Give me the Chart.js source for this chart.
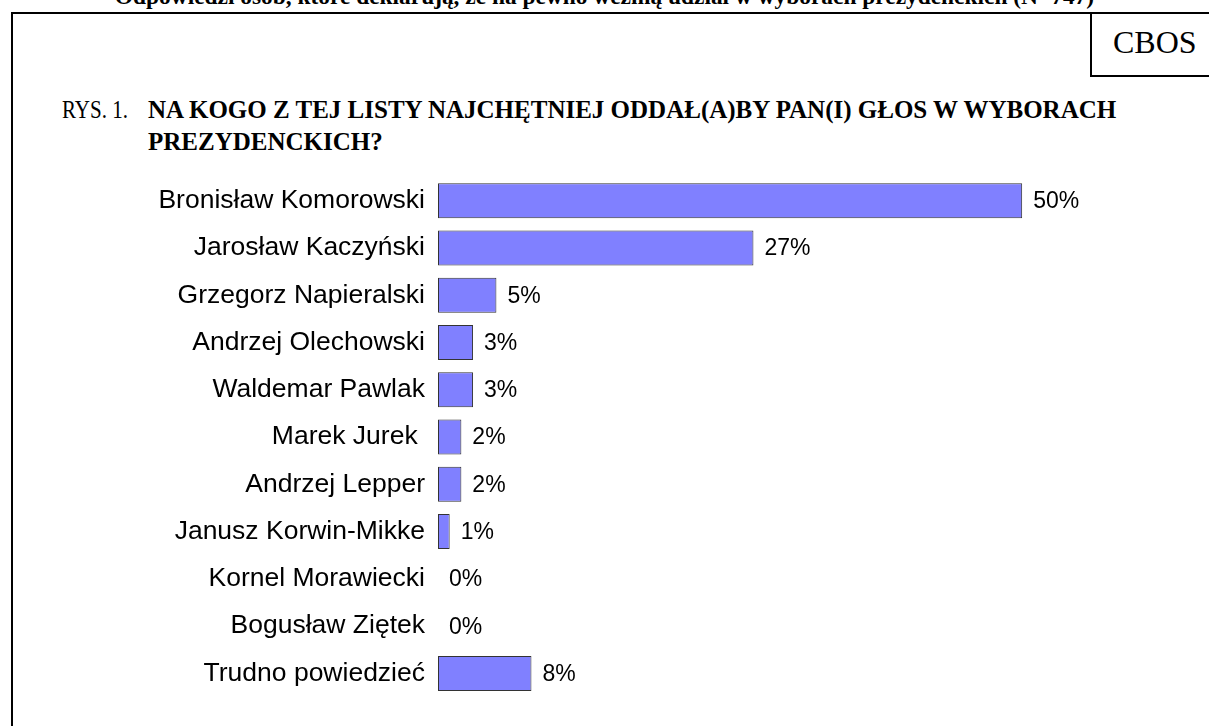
<!DOCTYPE html>
<html>
<head>
<meta charset="utf-8">
<script src="https://cdn.jsdelivr.net/npm/chart.js@4"></script>
<style>
  html, body { margin: 0; padding: 0; background: #fff; overflow: hidden; }
  body { width: 1209px; height: 726px; position: relative; font-family: "Liberation Serif", "Times New Roman", serif; }
  .frame { position: absolute; left: 11px; top: 12px; width: 1260px; height: 760px; border: 2px solid #000; box-sizing: border-box; }
  .cbos { position: absolute; left: 1090px; top: 12px; width: 180px; height: 65px; border: 2px solid #000; box-sizing: border-box; }
  .cbos span { position: absolute; left: 21px; top: 12px; font-size: 32px; line-height: 32px; }
  .subtitle { position: absolute; left: 0; width: 1209px; top: -16px; text-align: center; font-weight: bold; font-size: 23.4px; line-height: 24px; white-space: nowrap; }
  .rys { position: absolute; left: 62px; top: 94px; font-size: 25px; line-height: 32px; transform: scaleX(0.84); transform-origin: left top; }
  .question { position: absolute; left: 148px; top: 94px; font-size: 25px; line-height: 32px; font-weight: bold; white-space: nowrap; }
  canvas { position: absolute; left: 0; top: 0; }
</style>
</head>
<body>
<div class="subtitle">Odpowiedzi osób, które deklarują, że na pewno wezmą udział w wyborach prezydenckich (N=747)</div>
<div class="frame"></div>
<div class="cbos"><span>CBOS</span></div>
<div class="rys">RYS. 1.</div>
<div class="question">NA KOGO Z TEJ LISTY NAJCHĘTNIEJ ODDAŁ(A)BY PAN(I) GŁOS W WYBORACH<br>PREZYDENCKICH?</div>
<canvas id="chart" width="1209" height="726"></canvas>
<script>
// candidates and answer shares (%)
const candidates = [
    'Bronisław Komorowski',
    'Jarosław Kaczyński',
    'Grzegorz Napieralski',
    'Andrzej Olechowski',
    'Waldemar Pawlak',
    'Marek Jurek ',
    'Andrzej Lepper',
    'Janusz Korwin-Mikke',
    'Kornel Morawiecki',
    'Bogusław Ziętek',
    'Trudno powiedzieć'
];
const shares = [50, 27, 5, 3, 3, 2, 2, 1, 0, 0, 8];

// percent labels to the right of each bar
const valueLabels = {
    id: 'valueLabels',
    afterDatasetsDraw(chart) {
        const ctx = chart.ctx;
        const meta = chart.getDatasetMeta(0);
        ctx.save();
        ctx.font = '23px "Liberation Sans", Arial, sans-serif';
        ctx.fillStyle = '#000';
        ctx.textAlign = 'left';
        ctx.textBaseline = 'middle';
        meta.data.forEach((bar, i) => {
            ctx.fillText(shares[i] + '%', bar.x + 11, bar.y + 1);
        });
        ctx.restore();
    }
};

const chart = new Chart(document.getElementById('chart').getContext('2d'), {
    type: 'bar',
    data: {
        labels: candidates,
        datasets: [{
            data: shares,
            backgroundColor: '#8080ff',
            borderColor: '#333333',
            borderWidth: (c) => shares[c.dataIndex] ? 1 : 0,
            borderSkipped: false,
            categoryPercentage: 1,
            barPercentage: 0.74
        }]
    },
    options: {
        indexAxis: 'y',
        responsive: false,
        animation: false,
        devicePixelRatio: 1,
        layout: { padding: { top: 177, bottom: 23, right: 70, left: 0 } },
        plugins: {
            legend: { display: false },
            tooltip: { enabled: false }
        },
        scales: {
            x: { display: false, min: 0, max: 60 },
            y: {
                grid: { display: false, drawTicks: false },
                border: { display: false },
                ticks: {
                    padding: 13,
                    color: '#000',
                    font: { family: '"Liberation Sans", Arial, sans-serif', size: 26.5 }
                },
                afterFit: (scale) => { scale.width = 438; }
            }
        }
    },
    plugins: [valueLabels]
});
</script>
</body>
</html>
